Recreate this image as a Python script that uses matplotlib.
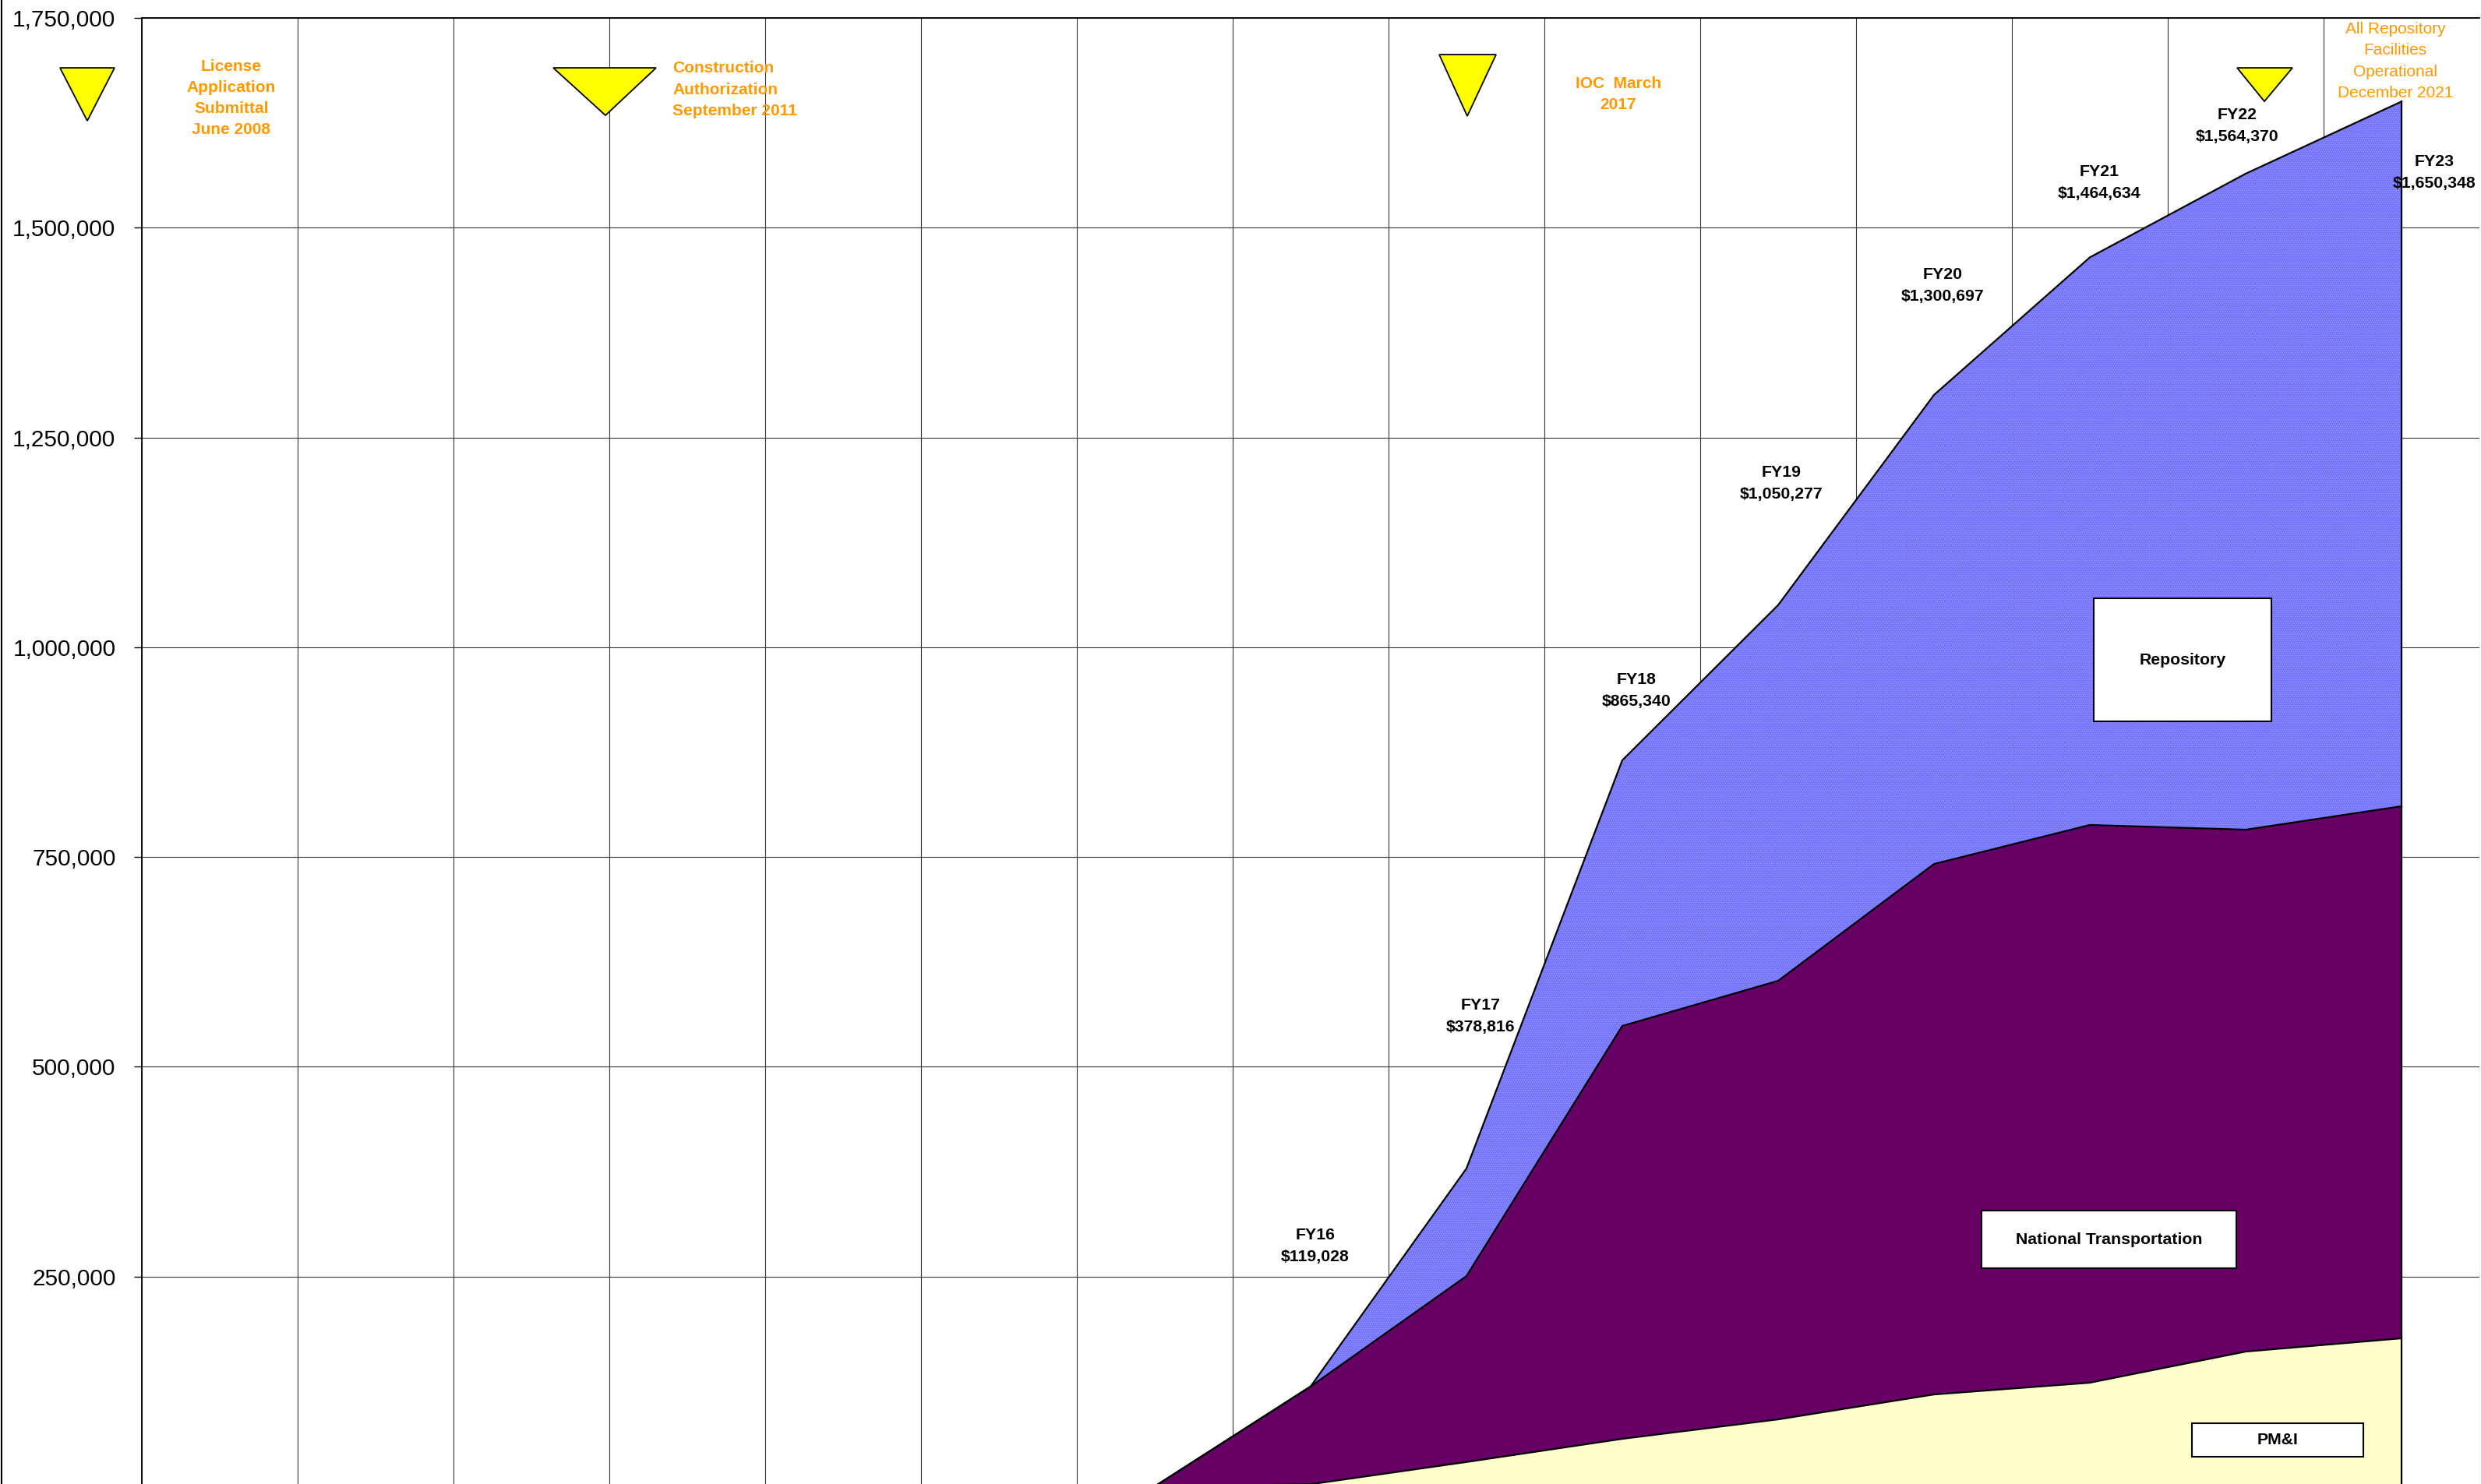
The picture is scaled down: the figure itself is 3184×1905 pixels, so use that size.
"""
Costo acumulado por año fiscal (área apilada): PM&I, National Transportation
y Repository, con los hitos del programa marcados con triángulos.
"""

import matplotlib
matplotlib.use("Agg")
import matplotlib.pyplot as plt
import numpy as np
from matplotlib.lines import Line2D
from matplotlib.patches import Polygon, Rectangle

plt.rcParams["font.family"] = ["Liberation Sans", "DejaVu Sans"]
plt.rcParams["hatch.linewidth"] = 0.6

# --- datos (miles de $) -----------------------------------------------------
FISCAL_YEARS = ["FY09", "FY10", "FY11", "FY12", "FY13", "FY14", "FY15", "FY16",
                "FY17", "FY18", "FY19", "FY20", "FY21", "FY22", "FY23"]
PMI = [0, 0, 0, 0, 0, 0, 0, 2500, 29000, 56600, 79800, 109500, 123500, 160600, 176400]
NAT_TRANS = [0, 0, 0, 0, 0, 0, 0, 116528, 221600, 492100, 522700, 632200, 664700,
             622000, 634100]
REPOSITORY = [0, 0, 0, 0, 0, 0, 0, 0, 128216, 316640, 447777, 558997, 676434,
              781770, 839848]
TOTALS = [0, 0, 0, 0, 0, 0, 0, 119028, 378816, 865340, 1050277, 1300697, 1464634,
          1564370, 1650348]

Y_TICKS = [250000, 500000, 750000, 1000000, 1250000, 1500000, 1750000]

# hitos: (triángulo [x izq, x der, x punta, y base, y punta], texto, x, y, ha, negrita)
MILESTONES = [
    ((-0.525, -0.175, -0.35, 1690500, 1627400),
     "License\nApplication\nSubmittal\nJune 2008", 0.575, 1654300, "center", "bold"),
    ((2.64, 3.30, 2.975, 1690500, 1633900),
     "Construction\nAuthorization\nSeptember 2011", 3.405, 1664500, "left", "bold"),
    ((8.325, 8.69, 8.505, 1706300, 1633000),
     "IOC  March\n2017", 9.475, 1658900, "center", "bold"),
    ((13.445, 13.80, 13.62, 1690500, 1650600),
     "All Repository\nFacilities\nOperational\nDecember 2021", 14.46, 1698400,
     "center", "normal"),
]

# posiciones de las etiquetas de total por año (x, y del centro)
TOTAL_LABEL_POS = {
    "FY16": (7.53, 286850), "FY17": (8.59, 560250), "FY18": (9.59, 948800),
    "FY19": (10.52, 1195700), "FY20": (11.555, 1431000), "FY21": (12.56, 1554000),
    "FY22": (13.445, 1621800), "FY23": (14.71, 1566100),
}

# cajas de leyenda dentro de las áreas: (texto, x0, y0, ancho, alto)
SERIES_BOXES = [
    ("Repository", 12.525, 911600, 1.14, 146700),
    ("National Transportation", 11.805, 259900, 1.635, 68700),
    ("PM&I", 13.155, 35300, 1.10, 39900),
]

ORANGE = "#ff9900"


def _draw_areas(ax):
    """Áreas apiladas con contorno negro sobre cada serie."""
    x = np.arange(len(FISCAL_YEARS)) + 0.5
    b1 = np.array(PMI, dtype=float)
    b2 = b1 + np.array(NAT_TRANS, dtype=float)
    b3 = b2 + np.array(REPOSITORY, dtype=float)

    ax.fill_between(x, 0, b1, facecolor="#ffffcc", lw=0, zorder=2)
    ax.fill_between(x, b1, b2, facecolor="#660066", lw=0, zorder=2)
    ax.fill_between(x, b2, b3, facecolor="#7474ff", edgecolor="#9c9cff",
                    hatch="......", lw=0, zorder=2)
    for top in (b1, b2, b3):
        ax.plot(x, top, color="black", lw=1.6, zorder=3, solid_joinstyle="miter")
    ax.plot([x[-1], x[-1]], [0, b3[-1]], color="black", lw=1.6, zorder=3)


def _draw_labels(ax):
    for fy, total in zip(FISCAL_YEARS, TOTALS):
        if fy not in TOTAL_LABEL_POS:
            continue
        lx, ly = TOTAL_LABEL_POS[fy]
        ax.text(lx, ly, f"{fy}\n${total:,.0f}", ha="center", va="center",
                fontsize=15.3, fontweight="bold", linespacing=1.6, zorder=6)

    for tri, text, tx, ty, ha, weight in MILESTONES:
        xl, xr, xt, yb, yt = tri
        ax.add_patch(Polygon([(xl, yb), (xr, yb), (xt, yt)], closed=True,
                             facecolor="#ffff00", edgecolor="black", lw=1.3,
                             clip_on=False, zorder=5))
        ax.text(tx, ty, text, ha=ha, va="center", multialignment=ha,
                color=ORANGE, fontsize=15, fontweight=weight,
                linespacing=1.55, zorder=6)

    for text, x0, y0, w, h in SERIES_BOXES:
        ax.add_patch(Rectangle((x0, y0), w, h, facecolor="white",
                               edgecolor="black", lw=1.5, zorder=4))
        ax.text(x0 + w / 2, y0 + h / 2, text, ha="center", va="center",
                fontsize=15.3, fontweight="bold", zorder=6)


fig = plt.figure(figsize=(31.84, 19.05), dpi=100, facecolor="white")
ax = fig.add_axes([0.05716, -0.001575, 0.94221, 0.98950])

_draw_areas(ax)
_draw_labels(ax)

ax.set_xlim(0, len(FISCAL_YEARS))
ax.set_ylim(0, 1750000)
ax.set_xticks(np.arange(len(FISCAL_YEARS) + 1))
ax.set_yticks(Y_TICKS)
ax.set_yticklabels([f"{v:,.0f}" for v in Y_TICKS])
ax.tick_params(axis="x", length=0, labelbottom=False)
ax.tick_params(axis="y", direction="out", length=7.2, width=1.0, pad=17,
               labelsize=21.4, colors="black")
ax.grid(True, color="#333333", lw=0.8)
ax.set_axisbelow(True)

for side in ("right", "bottom"):
    ax.spines[side].set_visible(False)
ax.spines["left"].set_linewidth(1.3)
ax.spines["top"].set_linewidth(1.3)

# borde izquierdo del área del gráfico
fig.add_artist(Line2D([0.0006, 0.0006], [0, 1], transform=fig.transFigure,
                      color="black", lw=1.5))

fig.savefig("out.png", dpi=100, facecolor="white")
plt.close(fig)
